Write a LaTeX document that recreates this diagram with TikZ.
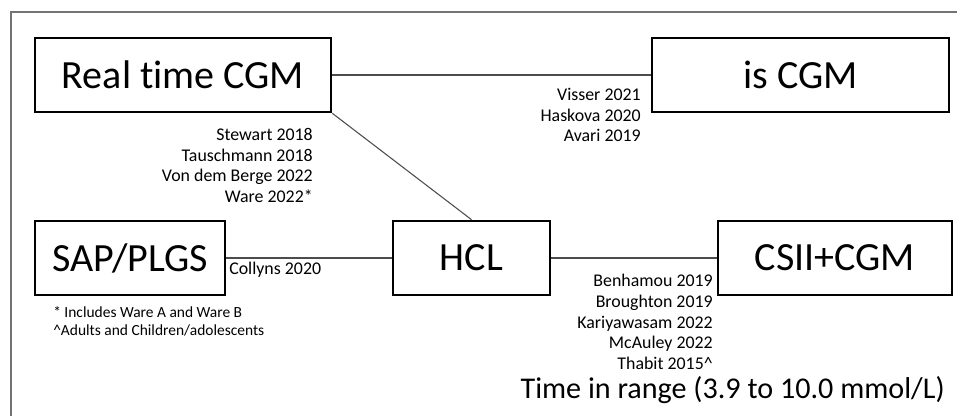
\documentclass[tikz,border=0pt]{standalone}
\usepackage{fontspec}
\setmainfont{Carlito}[RawFeature={-liga}]
\tikzset{
  device/.style={draw, line width=2pt, inner sep=0pt, font=\fontsize{30}{34}\selectfont},
  link/.style={draw=black!70, line width=0.8pt},
  cites/.style={inner sep=0pt, align=right, font=\fontsize{13.4}{15.5}\selectfont},
  notes/.style={inner sep=0pt, align=left, font=\fontsize{11.6}{13.5}\selectfont}
}
\begin{document}
\begin{tikzpicture}[x=0.75pt,y=-0.75pt]
    \useasboundingbox (0,0) rectangle (957,416);
    %% Frame
    \draw[black!55, line width=0.8pt] (11,416) -- (11,12) -- (957,12);
    %% Devices
    \node[device, minimum width=222pt, minimum height=55.5pt] (rtcgm) at (183,75) {Real time CGM};
    \node[device, minimum width=222.75pt, minimum height=55.5pt] (iscgm) at (800.5,75) {is CGM};
    \node[device, minimum width=142.5pt, minimum height=55.5pt] (sap) at (130,258) {SAP/PLGS};
    \node[device, minimum width=117.75pt, minimum height=55.5pt] (hcl) at (471.5,258) {HCL};
    \node[device, minimum width=175.5pt, minimum height=55.5pt] (csii) at (835,258) {CSII+CGM};
    %% Comparisons
    \draw[link] (rtcgm.east) -- (iscgm.west);
    \draw[link] (rtcgm.south east) -- (hcl.north);
    \draw[link] (sap.east) -- (hcl.west);
    \draw[link] (hcl.east) -- (csii.west);
    %% Studies
    \node[cites, anchor=north east] (rtcites) at (313,128) {Stewart 2018\\Tauschmann 2018\\Von dem Berge 2022\\Ware 2022*};
    \node[cites, anchor=north east] (iscites) at (641,88) {Visser 2021\\Haskova 2020\\Avari 2019};
    \node[cites, anchor=west] (sapcites) at (229,270) {Collyns 2020};
    \node[cites, anchor=north east] (csiicites) at (713,274) {Benhamou 2019\\Broughton 2019\\Kariyawasam 2022\\McAuley 2022\\Thabit 2015\textasciicircum};
    %% Footnotes and outcome
    \node[notes, anchor=north west] (notes) at (53,306) {* Includes Ware A and Ware B\\\textasciicircum Adults and Children/adolescents};
    \node[anchor=base east, inner sep=0pt, font=\fontsize{22.6}{26}\selectfont] (outcome) at (945,399) {Time in range (3.9 to 10.0 mmol/L)};
\end{tikzpicture}
\end{document}
